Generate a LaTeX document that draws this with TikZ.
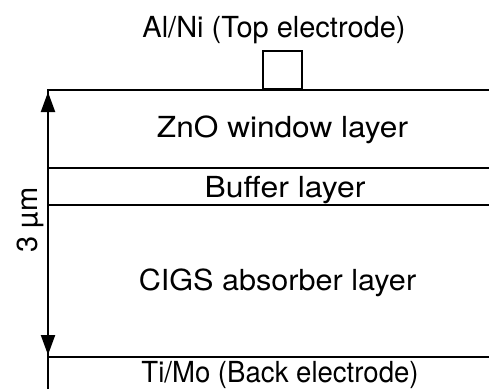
\documentclass[tikz,border=0pt]{standalone}
\usepackage{fontspec}
\setmainfont{TeX Gyre Heros}
\usetikzlibrary{arrows.meta}
\begin{document}
\begin{tikzpicture}[x=1pt,y=-1pt,
  line/.style={line width=2.1pt},
  lbl/.style={anchor=base,inner sep=0pt,font=\fontsize{29}{34}\selectfont},
  dim/.style={line width=2.1pt,{Triangle[length=20pt,width=14pt]}-{Triangle[length=20pt,width=14pt]}}]
\useasboundingbox (0,0) rectangle (489,389);
% corners
\coordinate (tl) at (48,90);
\coordinate (tr) at (489,90);
\coordinate (bl) at (48,389);
\coordinate (zl) at (48,168);
\coordinate (zr) at (489,168);
\coordinate (bfl) at (48,205);
\coordinate (bfr) at (489,205);
\coordinate (cl) at (48,357);
\coordinate (cr) at (489,357);
\coordinate (atop) at (48,92);
\coordinate (abot) at (48,355);
% outline
\draw[line] (bl) -- (tl) -- (tr);
\draw[line] (zl) -- (zr);
\draw[line] (bfl) -- (bfr);
\draw[line] (cl) -- (cr);
% top electrode
\node[draw,line width=2.1pt,minimum width=39pt,minimum height=38pt,inner sep=0pt,anchor=south] (elec) at (282.5,90) {};
% thickness arrow
\draw[dim] (atop) -- (abot);
% labels
\node[lbl] (top) at (274,37) {Al/Ni (Top electrode)};
\node[lbl,xscale=1.09] (zno) at (282.5,137) {ZnO window layer};
\node[lbl,xscale=1.1] (buf) at (285,197) {Buffer layer};
\node[lbl,xscale=1.055] (cigs) at (277.5,290) {CIGS absorber layer};
\node[lbl,xscale=0.95] (back) at (280,382) {Ti/Mo (Back electrode)};
\node[lbl,rotate=90] (thick) at (37,220) {3 µm};
\end{tikzpicture}
\end{document}
